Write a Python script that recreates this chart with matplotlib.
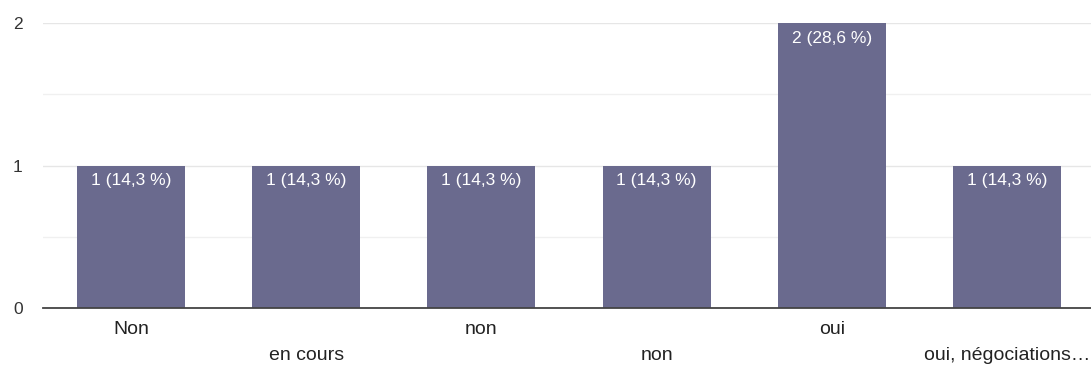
import matplotlib
matplotlib.use("Agg")
import matplotlib.pyplot as plt

categories = ["Non", "en cours", "non", "non", "oui", "oui, négociations…"]
counts = [1, 1, 1, 1, 2, 1]
labels = ["1 (14,3 %)", "1 (14,3 %)", "1 (14,3 %)", "1 (14,3 %)", "2 (28,6 %)", "1 (14,3 %)"]

plt.rcParams["font.family"] = ["Liberation Sans", "DejaVu Sans"]

fig = plt.figure(figsize=(10.91, 3.67), dpi=100)
ax = fig.add_axes([0.0398, 0.161, 0.9634, 0.776])

x = list(range(len(categories)))
bars = ax.bar(x, counts, width=0.617, color="#6a6a8e", zorder=3)

# value labels just inside the top of each bar
for rect, lab in zip(bars, labels):
    ax.annotate(lab, (rect.get_x() + rect.get_width() / 2, rect.get_height()),
                xytext=(0, -5.5), textcoords="offset points",
                ha="center", va="top", color="white", fontsize=12.5, zorder=4)

ax.set_xlim(-0.5, len(categories) - 0.5)
ax.set_ylim(0, 2)
ax.set_yticks([0, 1, 2])
ax.set_yticks([0.5, 1.5], minor=True)
ax.grid(axis="y", which="major", color="#e6e6e6", linewidth=1, zorder=0)
ax.grid(axis="y", which="minor", color="#f0f0f0", linewidth=1, zorder=0)
ax.tick_params(axis="y", which="both", length=0, labelsize=12.5, colors="#333333", pad=15)

# category names alternate between two rows
ax.set_xticks(x)
ax.set_xticklabels([])
ax.tick_params(axis="x", length=0)
for i, name in enumerate(categories):
    ax.annotate(name, (i, 0), xytext=(0, -9.5 if i % 2 == 0 else -28),
                textcoords="offset points", ha="center", va="top",
                fontsize=14, color="#222222", annotation_clip=False)

for side in ["top", "right", "left"]:
    ax.spines[side].set_visible(False)
ax.spines["bottom"].set_color("#444444")
ax.spines["bottom"].set_linewidth(1.3)
ax.spines["bottom"].set_zorder(5)

fig.savefig("out.png", dpi=100)
